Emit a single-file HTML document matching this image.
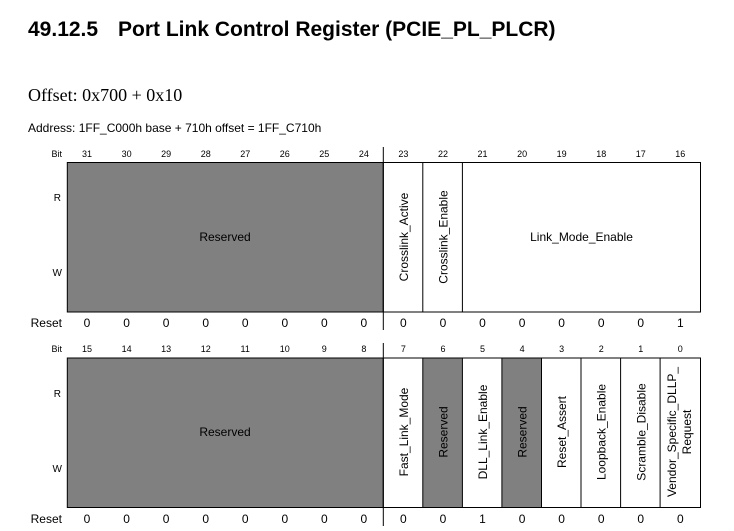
<!DOCTYPE html>
<html><head><meta charset="utf-8"><style>
body{margin:0;background:#fff;width:734px;height:531px;overflow:hidden}
svg{display:block}
text{font-family:"Liberation Sans",Arial,sans-serif;fill:#000}
</style></head><body>
<svg width="734" height="531" viewBox="0 0 734 531" xmlns="http://www.w3.org/2000/svg">
<text x="28" y="36" font-size="21" font-weight="bold">49.12.5<tspan x="118">Port Link Control Register (PCIE_PL_PLCR)</tspan></text>
<text x="28" y="101" font-size="18" style="font-family:'Liberation Serif',serif">Offset: 0x700 + 0x10</text>
<text x="28" y="132" font-size="12">Address: 1FF_C000h base + 710h offset = 1FF_C710h</text>

<!-- top register -->
<g font-size="9" text-anchor="middle">
<text x="62" y="157" text-anchor="end">Bit</text>
<text x="87" y="157">31</text><text x="126.6" y="157">30</text><text x="166.1" y="157">29</text><text x="205.7" y="157">28</text><text x="245.2" y="157">27</text><text x="284.8" y="157">26</text><text x="324.3" y="157">25</text><text x="363.9" y="157">24</text>
<text x="403.4" y="157">23</text><text x="443" y="157">22</text><text x="482.5" y="157">21</text><text x="522.1" y="157">20</text><text x="561.6" y="157">19</text><text x="601.2" y="157">18</text><text x="640.7" y="157">17</text><text x="680.3" y="157">16</text>
</g>
<text x="61" y="201" font-size="10" text-anchor="end">R</text>
<text x="62" y="276" font-size="10" text-anchor="end">W</text>
<rect x="67.3" y="162.5" width="316" height="149.5" fill="#808080" stroke="#000" stroke-width="1"/>
<rect x="383.3" y="162.5" width="317.2" height="149.5" fill="#fff" stroke="#000" stroke-width="1"/>
<line x1="422.8" y1="162.5" x2="422.8" y2="312" stroke="#000"/>
<line x1="462.4" y1="162.5" x2="462.4" y2="312" stroke="#000"/>
<text x="225" y="241" font-size="12" text-anchor="middle">Reserved</text>
<text x="581.5" y="241" font-size="12" text-anchor="middle">Link_Mode_Enable</text>
<text transform="translate(408,237) rotate(-90)" font-size="12" text-anchor="middle">Crosslink_Active</text>
<text transform="translate(447.5,237) rotate(-90)" font-size="12" text-anchor="middle">Crosslink_Enable</text>
<text x="62" y="327" font-size="12" text-anchor="end">Reset</text>
<g font-size="12" text-anchor="middle">
<text x="87" y="327">0</text><text x="126.6" y="327">0</text><text x="166.1" y="327">0</text><text x="205.7" y="327">0</text><text x="245.2" y="327">0</text><text x="284.8" y="327">0</text><text x="324.3" y="327">0</text><text x="363.9" y="327">0</text>
<text x="403.4" y="327">0</text><text x="443" y="327">0</text><text x="482.5" y="327">0</text><text x="522.1" y="327">0</text><text x="561.6" y="327">0</text><text x="601.2" y="327">0</text><text x="640.7" y="327">0</text><text x="680.3" y="327">1</text>
</g>
<line x1="383.3" y1="147" x2="383.3" y2="330" stroke="#000"/>

<!-- bottom register -->
<g font-size="9" text-anchor="middle">
<text x="62" y="352" text-anchor="end">Bit</text>
<text x="87" y="352">15</text><text x="126.6" y="352">14</text><text x="166.1" y="352">13</text><text x="205.7" y="352">12</text><text x="245.2" y="352">11</text><text x="284.8" y="352">10</text><text x="324.3" y="352">9</text><text x="363.9" y="352">8</text>
<text x="403.4" y="352">7</text><text x="443" y="352">6</text><text x="482.5" y="352">5</text><text x="522.1" y="352">4</text><text x="561.6" y="352">3</text><text x="601.2" y="352">2</text><text x="640.7" y="352">1</text><text x="680.3" y="352">0</text>
</g>
<text x="61" y="397" font-size="10" text-anchor="end">R</text>
<text x="62" y="472" font-size="10" text-anchor="end">W</text>
<rect x="67.3" y="358" width="316" height="149.5" fill="#808080" stroke="#000"/>
<rect x="383.3" y="358" width="317.2" height="149.5" fill="#fff" stroke="#000"/>
<rect x="422.8" y="358" width="39.6" height="149.5" fill="#808080" stroke="#000"/>
<rect x="501.9" y="358" width="39.6" height="149.5" fill="#808080" stroke="#000"/>
<line x1="581" y1="358" x2="581" y2="507.5" stroke="#000"/>
<line x1="620.6" y1="358" x2="620.6" y2="507.5" stroke="#000"/>
<line x1="660.1" y1="358" x2="660.1" y2="507.5" stroke="#000"/>
<text x="225" y="436" font-size="12" text-anchor="middle">Reserved</text>
<g font-size="12" text-anchor="middle">
<text transform="translate(408,432) rotate(-90)">Fast_Link_Mode</text>
<text transform="translate(447.5,432) rotate(-90)">Reserved</text>
<text transform="translate(487,432) rotate(-90)">DLL_Link_Enable</text>
<text transform="translate(526.6,432) rotate(-90)">Reserved</text>
<text transform="translate(566.2,432) rotate(-90)">Reset_Assert</text>
<text transform="translate(605.7,432) rotate(-90)">Loopback_Enable</text>
<text transform="translate(645.3,432) rotate(-90)">Scramble_Disable</text>
<text transform="translate(676,432) rotate(-90)">Vendor_Specific_DLLP_</text>
<text transform="translate(691,432) rotate(-90)">Request</text>
</g>
<text x="62" y="523" font-size="12" text-anchor="end">Reset</text>
<g font-size="12" text-anchor="middle">
<text x="87" y="523">0</text><text x="126.6" y="523">0</text><text x="166.1" y="523">0</text><text x="205.7" y="523">0</text><text x="245.2" y="523">0</text><text x="284.8" y="523">0</text><text x="324.3" y="523">0</text><text x="363.9" y="523">0</text>
<text x="403.4" y="523">0</text><text x="443" y="523">0</text><text x="482.5" y="523">1</text><text x="522.1" y="523">0</text><text x="561.6" y="523">0</text><text x="601.2" y="523">0</text><text x="640.7" y="523">0</text><text x="680.3" y="523">0</text>
</g>
<line x1="383.3" y1="343" x2="383.3" y2="526" stroke="#000"/>
</svg>
</body></html>
